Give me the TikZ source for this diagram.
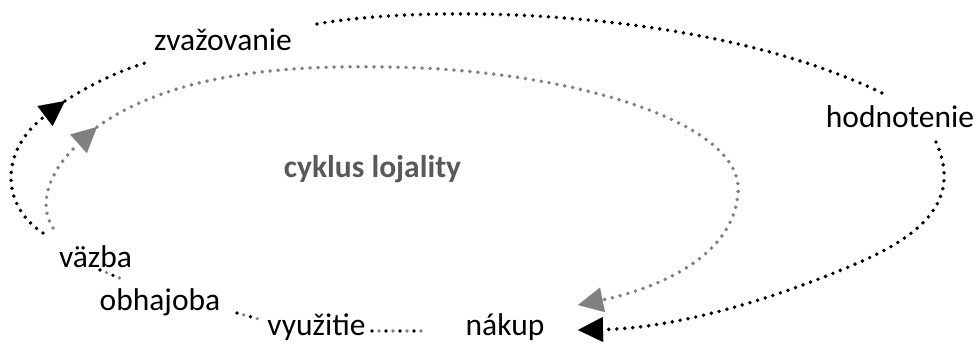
\documentclass[tikz,border=0pt]{standalone}
\usepackage{fontspec}
\setmainfont{Carlito}
\usetikzlibrary{arrows.meta}

\definecolor{loopgray}{RGB}{128,128,128}
\definecolor{titlegray}{RGB}{89,89,89}

\tikzset{
  stagetext/.style={font=\fontsize{31.5}{36}\selectfont, inner sep=0pt, anchor=base},
  titletext/.style={stagetext, font=\fontsize{31.5}{36}\selectfont\bfseries, text=titlegray},
  blackdots/.style={draw=black, line width=3.9pt, line cap=round, dash pattern=on 0pt off 8pt},
  graydots/.style={draw=loopgray, line width=3.9pt, line cap=round, dash pattern=on 0pt off 8pt},
  linkdots/.style={line width=3.6pt, line cap=round, dash pattern=on 0pt off 14pt},
  shiftdots/.style={dash phase=7pt},
  bigtip/.style={-{Triangle[length=25pt,width=25pt,line width=0.1pt]}},
}

\begin{document}
\begin{tikzpicture}[x=1pt, y=-1pt]
  \useasboundingbox (0,0) rectangle (979,343);

  % stage labels
  \node[stagetext] (zva) at (223,50)    {zvažovanie};
  \node[stagetext] (hod) at (900,127)   {hodnotenie};
  \node[stagetext] (nak) at (505,335)   {nákup};
  \node[stagetext] (vyu) at (316.5,335) {využitie};
  \node[stagetext] (obh) at (160,310)   {obhajoba};
  \node[stagetext] (vaz) at (95.5,267)  {väzba};
  \node[titletext] (title) at (372.5,177) {cyklus lojality};

  % connector end points
  \coordinate (zvaR) at (317,24);
  \coordinate (zvaL) at (145,63);
  \coordinate (hodT) at (882,93);
  \coordinate (hodB) at (936,142);
  \coordinate (nakB) at (578,330);
  \coordinate (nakG) at (578,305);
  \coordinate (vazB) at (43,233);
  \coordinate (vazG) at (53,228);
  \coordinate (tipB) at (65,101);
  \coordinate (tipG) at (97,127);
  \coordinate (vazS) at (100,270);
  \coordinate (obhN) at (122,279);
  \coordinate (obhS) at (237,313);
  \coordinate (vyuN) at (262,320);
  \coordinate (vyuE) at (372,331);
  \coordinate (nakW) at (428,331);

  % outer (black) decision journey
  \draw[blackdots] (zvaR) .. controls (420,5) and (700,5) .. (hodT);
  \draw[blackdots, bigtip] (hodB) .. controls (955,185) and (945,225) .. (860,262)
                                  .. controls (780,297) and (680,328) .. (nakB);
  \draw[blackdots, bigtip] (vazB) .. controls (0,205) and (0,150) .. (tipB);
  \draw[blackdots] (tipB) .. controls (85,88) and (115,72) .. (zvaL);

  % inner (gray) loyalty loop
  \draw[graydots, bigtip] (vazG) .. controls (35,200) and (55,165) .. (tipG);
  \draw[graydots, bigtip] (tipG) .. controls (170,75) and (280,65) .. (383,67)
                                 .. controls (560,68) and (745,120) .. (738,193)
                                 .. controls (733,260) and (650,290) .. (nakG);

  % short links between the lower stages
  \draw[linkdots, draw=black] (vazS) -- (obhN);
  \draw[linkdots, draw=loopgray, shiftdots] (vazS) -- (obhN);
  \draw[linkdots, draw=black] (obhS) -- (vyuN);
  \draw[linkdots, draw=loopgray, shiftdots] (obhS) -- (vyuN);
  \draw[linkdots, draw=black] (vyuE) -- (nakW);
  \draw[linkdots, draw=loopgray, shiftdots] (vyuE) -- (nakW);
\end{tikzpicture}
\end{document}
